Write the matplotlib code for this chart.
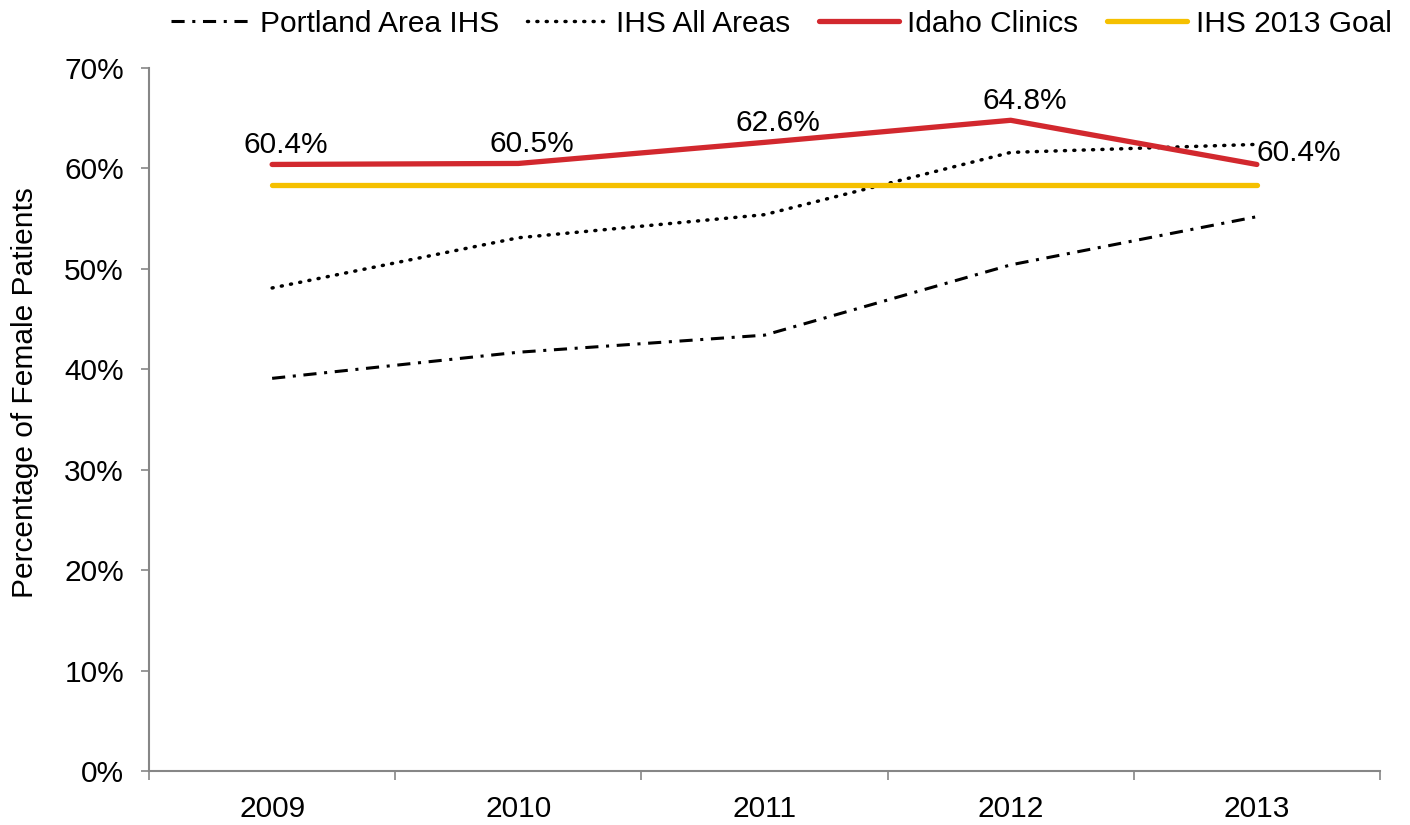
import numpy as np
import matplotlib.pyplot as plt
from matplotlib.ticker import PercentFormatter

plt.rcParams['font.family'] = ['Liberation Sans', 'DejaVu Sans']
FS = 21.5

# Data
years = ['2009', '2010', '2011', '2012', '2013']
portland = [39.1, 41.7, 43.4, 50.4, 55.2]      # Portland Area IHS
ihs_all = [48.1, 53.1, 55.4, 61.6, 62.4]       # IHS All Areas
idaho = [60.4, 60.5, 62.6, 64.8, 60.4]         # Idaho Clinics
goal = [58.4, 58.4, 58.4, 58.4, 58.4]          # IHS 2013 Goal

fig = plt.figure(figsize=(14.1, 8.25), dpi=100)
ax = fig.add_axes([0.1057, 0.0655, 0.873, 0.852])

x = np.arange(len(years))
ax.plot(x, portland, color='black', lw=2.2, linestyle=(0, (4.3, 2.5, 1, 2.5)), label='Portland Area IHS')
ax.plot(x, ihs_all, color='black', lw=2.5, linestyle=(0, (0.3, 2.4)), dash_capstyle='round',
        label='IHS All Areas')
ax.plot(x, idaho, color='#d2282e', lw=3.8, solid_capstyle='round', label='Idaho Clinics')
ax.plot(x, goal, color='#f5c000', lw=3.8, solid_capstyle='round', label='IHS 2013 Goal')

# data labels for Idaho
for i, v in enumerate(idaho):
    if i == len(idaho) - 1:
        ax.annotate(f'{v:.1f}%', (x[i], v), xytext=(0, 8), textcoords='offset points',
                    ha='left', va='center', fontsize=FS)
    else:
        ax.annotate(f'{v:.1f}%', (x[i], v), xytext=(10, 4), textcoords='offset points',
                    ha='center', va='bottom', fontsize=FS)

ax.set_xlim(-0.5, len(years) - 0.5)
ax.set_ylim(0, 70)
ax.set_yticks(np.arange(0, 71, 10))
ax.yaxis.set_major_formatter(PercentFormatter(decimals=0))
ax.set_xticks(x)
ax.set_xticklabels(years)
ax.set_xticks(np.arange(-0.5, len(years), 1), minor=True)
ax.tick_params(axis='x', which='major', length=0, pad=17, labelsize=FS)
ax.tick_params(axis='x', which='minor', length=6.5, width=1.2, color='#868686', direction='out')
ax.tick_params(axis='y', length=6, width=1.2, color='#868686', labelsize=FS, pad=12)

for s in ['top', 'right']:
    ax.spines[s].set_visible(False)
for s in ['left', 'bottom']:
    ax.spines[s].set_color('#868686')
    ax.spines[s].set_linewidth(1.5)

ax.set_ylabel('Percentage of Female Patients', fontsize=FS)
ax.yaxis.label.set_va('center')
ax.yaxis.set_label_coords(-0.1006, 0.538)

fig.legend(loc='upper left', bbox_to_anchor=(0.1213, 0.988), ncol=4, frameon=False,
           fontsize=FS, handlelength=2.7, handletextpad=0.27, columnspacing=0.95,
           borderpad=0, borderaxespad=0)

plt.savefig('out.png', dpi=100)
